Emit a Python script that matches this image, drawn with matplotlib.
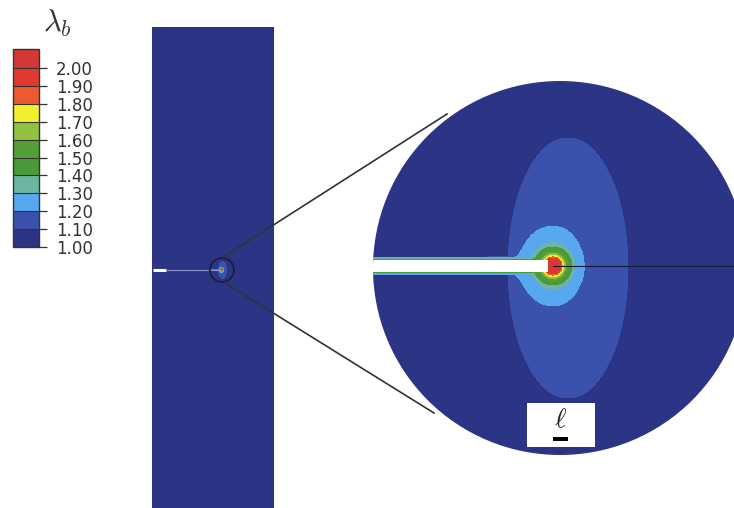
import numpy as np
import matplotlib
matplotlib.use("Agg")
import matplotlib.pyplot as plt
from matplotlib.colors import ListedColormap, BoundaryNorm
from matplotlib.patches import Rectangle, Circle

plt.rcParams["mathtext.fontset"] = "cm"

# Contour levels of the stretch lambda_b and the colour of each band (last = above 2.00)
levels = [1.00, 1.10, 1.20, 1.30, 1.40, 1.50, 1.60, 1.70, 1.80, 1.90, 2.00]
band_colors = ["#2c3485", "#3a52ab", "#58a8f0", "#6db5a0", "#4a9a3a",
               "#559e36", "#92c040", "#f2ee30", "#ee5a30", "#e03a30", "#d43835"]
tick_labels = ["1.00", "1.10", "1.20", "1.30", "1.40", "1.50",
               "1.60", "1.70", "1.80", "1.90", "2.00"]

# Radial profile of lambda_b around the crack tip (distance in zoom-view pixels)
tip_radius = [0.0, 6.0, 8.0, 9.0, 10.5, 12.5, 15.0, 19.0, 23.0, 40.0, 41.0]
tip_lambda = [2.30, 2.00, 1.90, 1.80, 1.70, 1.60, 1.50, 1.40, 1.30, 1.20, 1.05]

# Profile across the crack faces (distance from face, zoom-view pixels)
face_dist = [0.0, 1.0, 1.2, 2.8, 3.0]
face_lambda = [1.45, 1.45, 1.25, 1.25, 1.00]

# Geometry of the zoomed view (pixel units)
zoom_c, zoom_r = (560.0, 268.0), 187.0
tip = (553.0, 266.0)
crack_end, crack_half = 548.0, 5.8
ell_c, ell_a, ell_b = (568.0, 268.0), 60.0, 130.0

# Geometry of the specimen and the small magnifier circle
spec_x0, spec_x1, spec_top = 152.0, 274.0, 27.0
small_c, small_r = (222.0, 270.0), 12.0


def lam_field(X, Y):
    dx = X - tip[0]
    dy = Y - tip[1]
    r_iso = np.hypot(dx, dy)
    # stretched along the crack flanks, giving the teardrop outline
    sx_left = 1.2 - 0.3 * np.exp(-np.clip(np.abs(dy) - crack_half, 0, None) / 5.0)
    sx = np.where(dx > 0, 1.3, sx_left)
    r_an = np.hypot(dx * sx, dy)
    w = np.clip((r_iso - 18.0) / 15.0, 0, 1)
    r = r_iso * (1 - w) + r_an * w
    lam = np.interp(r, tip_radius, tip_lambda)
    e = ((X - ell_c[0]) / ell_a) ** 2 + ((Y - ell_c[1]) / ell_b) ** 2
    lam_ell = np.clip(1.19 - 0.09 * np.sqrt(e), 1.0, None)
    d = np.abs(Y - tip[1]) - crack_half
    lam_face = np.where((X < crack_end) & (d > -1),
                        np.interp(np.clip(d, 0, None), face_dist, face_lambda), 1.0)
    return np.maximum.reduce([lam, lam_ell, lam_face])


cmap = ListedColormap(band_colors[:10])
cmap.set_over(band_colors[10])
norm = BoundaryNorm(levels, cmap.N)

fig = plt.figure(figsize=(7.34, 5.08), dpi=100)
ax = fig.add_axes([0, 0, 1, 1])
ax.set_xlim(0, 734)
ax.set_ylim(508, 0)
ax.axis("off")

# Specimen
ax.add_patch(Rectangle((spec_x0, spec_top), spec_x1 - spec_x0, 500, fc=band_colors[0], ec="none", zorder=1))

# Magnified field inside the small circle
k = zoom_r / small_r
xs = np.linspace(small_c[0] - small_r, small_c[0] + small_r, 200)
ys = np.linspace(small_c[1] - small_r, small_c[1] + small_r, 200)
XS, YS = np.meshgrid(xs, ys)
LS = lam_field(zoom_c[0] + (XS - small_c[0]) * k, zoom_c[1] + (YS - small_c[1]) * k)
cs_small = ax.contourf(XS, YS, LS, levels=levels, cmap=cmap, norm=norm, extend="max", zorder=2)
cs_small.set_clip_path(Circle(small_c, small_r, transform=ax.transData))

tip_small = small_c[0] + (crack_end - zoom_c[0]) / k
ax.plot([spec_x0 + 1, 166], [small_c[1], small_c[1]], color="white", lw=2.2, solid_capstyle="butt", zorder=3)
ax.plot([166, tip_small], [small_c[1], small_c[1]], color="#8a90c4", lw=0.8, zorder=3)
ax.add_patch(Circle(small_c, small_r, fill=False, ec="#1c1f38", lw=1.3, zorder=4))

# Connector lines
ax.plot([225, 447], [256, 114], color="#333333", lw=1.2, zorder=4)
ax.plot([225, 434], [283, 413], color="#333333", lw=1.2, zorder=4)

# Zoomed field
xb = np.linspace(zoom_c[0] - zoom_r - 2, zoom_c[0] + zoom_r + 2, 800)
yb = np.linspace(zoom_c[1] - zoom_r - 2, zoom_c[1] + zoom_r + 2, 800)
XB, YB = np.meshgrid(xb, yb)
LB = lam_field(XB, YB)
cs = ax.contourf(XB, YB, LB, levels=levels, cmap=cmap, norm=norm, extend="max", zorder=2)
cs.set_clip_path(Circle(zoom_c, zoom_r, transform=ax.transData))

crack = Rectangle((zoom_c[0] - zoom_r - 2, tip[1] - crack_half), crack_end - (zoom_c[0] - zoom_r - 2),
                  2 * crack_half, fc="white", ec="none", zorder=3)
ax.add_patch(crack)
crack.set_clip_path(Circle(zoom_c, zoom_r, transform=ax.transData))
ln, = ax.plot([tip[0], zoom_c[0] + zoom_r], [tip[1], tip[1]], color="#15193a", lw=0.8, zorder=3)
ln.set_clip_path(Circle(zoom_c, zoom_r, transform=ax.transData))

# Length-scale box
ax.add_patch(Rectangle((527, 403), 68, 44, fc="white", ec="none", zorder=5))
ax.text(560, 419, r"$\ell$", fontsize=20, ha="center", va="center", color="#222222", zorder=6)
ax.add_patch(Rectangle((553, 437), 15, 4, fc="black", ec="none", zorder=6))

# Colour bar
cax = fig.add_axes([13 / 734, 1 - 247 / 508, 26 / 734, 198 / 508])
cb = fig.colorbar(cs, cax=cax, extend="max", extendrect=True, extendfrac=0.107,
                  drawedges=True, ticks=levels)
cb.ax.set_yticklabels(tick_labels)
cb.ax.tick_params(axis="y", direction="out", length=6, width=0.9, pad=6,
                  labelsize=12, labelcolor="#333333", color="#333333")
cb.outline.set_edgecolor("#333333")
cb.outline.set_linewidth(1.0)
cb.dividers.set_color("#333333")
cb.dividers.set_linewidth(0.8)
fig.text(57 / 734, 1 - 23 / 508, r"$\lambda_b$", fontsize=22, ha="center", va="center", color="#333333")

fig.savefig("out.png", dpi=100)
